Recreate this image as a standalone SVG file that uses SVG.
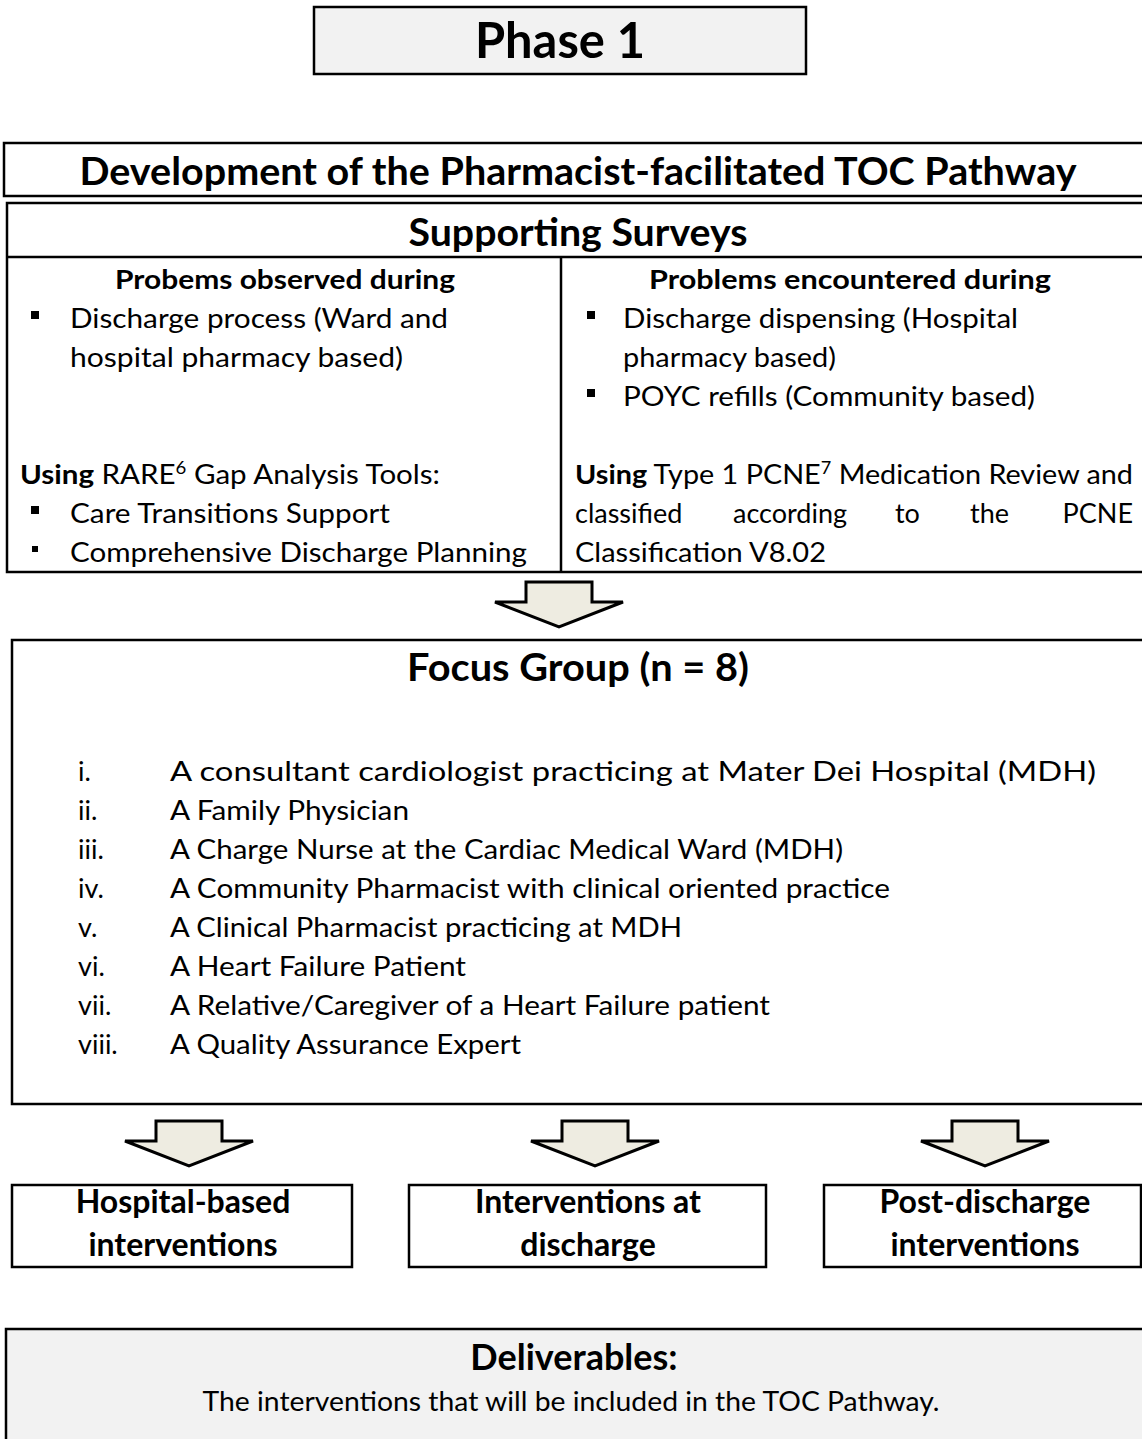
<svg xmlns="http://www.w3.org/2000/svg" width="1142" height="1439" viewBox="0 0 1142 1439">
  <style>
    .box { fill: #ffffff; stroke: #000000; stroke-width: 2.5; }
    .grey { fill: #f2f2f2; }
    .rule { stroke: #000000; stroke-width: 2.5; fill: none; }
    .t { font-family: Lato, "Open Sans", "Liberation Sans", sans-serif; fill: #000000; }
    .b { font-weight: bold; }
    .h1 { font-size: 50px; }
    .h2 { font-size: 39px; }
    .h3 { font-size: 27px; }
    .h4 { font-size: 32px; }
    .n { font-size: 27px; }
    .sup { font-size: 17px; }
    .arrow { fill: #eeece1; stroke: #000000; stroke-width: 3; stroke-linejoin: miter; }
  </style>
  <defs>
    <!-- block arrow pointing down, origin at top centre of shaft -->
    <path id="downArrow" d="M -33 0 L 33 0 L 33 20 L 64 20 L 0 45 L -64 20 L -33 20 Z"/>
  </defs>
  <rect width="1142" height="1439" fill="#ffffff"/>

  <g id="phase-title">
    <rect class="box grey" x="314" y="7" width="492" height="67"/>
    <text class="t b h1" x="560" y="58" text-anchor="middle" textLength="170" lengthAdjust="spacingAndGlyphs">Phase 1</text>
  </g>

  <g id="development-header">
    <rect class="box" x="4" y="143" width="1150" height="53"/>
    <text class="t b h2" x="578" y="185" text-anchor="middle" textLength="997" lengthAdjust="spacingAndGlyphs">Development of the Pharmacist-facilitated TOC Pathway</text>
  </g>

  <g id="supporting-surveys">
    <rect class="box" x="7" y="203" width="1150" height="369"/>
    <line class="rule" x1="7" y1="257" x2="1142" y2="257"/>
    <line class="rule" x1="561" y1="257" x2="561" y2="572"/>
    <text class="t b h2" x="578" y="246" text-anchor="middle" textLength="339" lengthAdjust="spacingAndGlyphs">Supporting Surveys</text>

    <!-- left column -->
    <g id="observed-problems">
      <text class="t b h3" x="285" y="289" text-anchor="middle" textLength="340" lengthAdjust="spacingAndGlyphs">Probems observed during</text>
      <rect x="31" y="311" width="8" height="8"/>
      <text class="t n" x="70" y="328" textLength="378" lengthAdjust="spacingAndGlyphs">Discharge process (Ward and</text>
      <text class="t n" x="70" y="367" textLength="333" lengthAdjust="spacingAndGlyphs">hospital pharmacy based)</text>
      <text class="t n" x="20" y="484" textLength="420" lengthAdjust="spacingAndGlyphs"><tspan class="b">Using</tspan> RARE<tspan class="sup" dy="-10">6</tspan><tspan dy="10"> Gap Analysis Tools:</tspan></text>
      <rect x="31" y="506" width="8" height="8"/>
      <text class="t n" x="70" y="523" textLength="320" lengthAdjust="spacingAndGlyphs">Care Transitions Support</text>
      <rect x="32" y="546" width="6" height="6"/>
      <text class="t n" x="70" y="562" textLength="457" lengthAdjust="spacingAndGlyphs">Comprehensive Discharge Planning</text>
    </g>

    <!-- right column -->
    <g id="encountered-problems">
      <text class="t b h3" x="850" y="289" text-anchor="middle" textLength="402" lengthAdjust="spacingAndGlyphs">Problems encountered during</text>
      <rect x="587" y="311" width="8" height="8"/>
      <text class="t n" x="623" y="328" textLength="395" lengthAdjust="spacingAndGlyphs">Discharge dispensing (Hospital</text>
      <text class="t n" x="623" y="367" textLength="213" lengthAdjust="spacingAndGlyphs">pharmacy based)</text>
      <rect x="587" y="389" width="8" height="8"/>
      <text class="t n" x="623" y="406" textLength="412" lengthAdjust="spacingAndGlyphs">POYC refills (Community based)</text>
      <text class="t n" x="575" y="484" textLength="558" lengthAdjust="spacingAndGlyphs"><tspan class="b">Using</tspan> Type 1 PCNE<tspan class="sup" dy="-10">7</tspan><tspan dy="10"> Medication Review and</tspan></text>
      <text class="t n" x="575" y="523">classified</text>
      <text class="t n" x="733" y="523">according</text>
      <text class="t n" x="895" y="523">to</text>
      <text class="t n" x="970" y="523">the</text>
      <text class="t n" x="1133" y="523" text-anchor="end">PCNE</text>
      <text class="t n" x="575" y="562" textLength="251" lengthAdjust="spacingAndGlyphs">Classification V8.02</text>
    </g>
  </g>

  <g id="focus-group">
    <rect class="box" x="12" y="640" width="1150" height="464"/>
    <text class="t b h2" x="578" y="681" text-anchor="middle" textLength="342" lengthAdjust="spacingAndGlyphs">Focus Group (n = 8)</text>
    <g class="t n">
      <text x="78" y="781">i.</text>
      <text x="170" y="781" textLength="926" lengthAdjust="spacingAndGlyphs">A consultant cardiologist practicing at Mater Dei Hospital (MDH)</text>
      <text x="78" y="820">ii.</text>
      <text x="170" y="820" textLength="239" lengthAdjust="spacingAndGlyphs">A Family Physician</text>
      <text x="78" y="859">iii.</text>
      <text x="170" y="859" textLength="673" lengthAdjust="spacingAndGlyphs">A Charge Nurse at the Cardiac Medical Ward (MDH)</text>
      <text x="78" y="898">iv.</text>
      <text x="170" y="898" textLength="720" lengthAdjust="spacingAndGlyphs">A Community Pharmacist with clinical oriented practice</text>
      <text x="78" y="937">v.</text>
      <text x="170" y="937" textLength="512" lengthAdjust="spacingAndGlyphs">A Clinical Pharmacist practicing at MDH</text>
      <text x="78" y="976">vi.</text>
      <text x="170" y="976" textLength="296" lengthAdjust="spacingAndGlyphs">A Heart Failure Patient</text>
      <text x="78" y="1015">vii.</text>
      <text x="170" y="1015" textLength="600" lengthAdjust="spacingAndGlyphs">A Relative/Caregiver of a Heart Failure patient</text>
      <text x="78" y="1054">viii.</text>
      <text x="170" y="1054" textLength="351" lengthAdjust="spacingAndGlyphs">A Quality Assurance Expert</text>
    </g>
  </g>

  <g id="connectors">
    <use href="#downArrow" class="arrow" x="559" y="582"/>
    <use href="#downArrow" class="arrow" x="189" y="1121"/>
    <use href="#downArrow" class="arrow" x="595" y="1121"/>
    <use href="#downArrow" class="arrow" x="985" y="1121"/>
  </g>

  <g id="hospital-based">
    <rect class="box" x="12" y="1185" width="340" height="82"/>
    <text class="t b h4" x="183" y="1213" text-anchor="middle">Hospital-based</text>
    <text class="t b h4" x="183" y="1256" text-anchor="middle">interventions</text>
  </g>

  <g id="at-discharge">
    <rect class="box" x="409" y="1185" width="357" height="82"/>
    <text class="t b h4" x="588" y="1213" text-anchor="middle">Interventions at</text>
    <text class="t b h4" x="588" y="1256" text-anchor="middle">discharge</text>
  </g>

  <g id="post-discharge">
    <rect class="box" x="824" y="1185" width="317" height="82"/>
    <text class="t b h4" x="985" y="1213" text-anchor="middle">Post-discharge</text>
    <text class="t b h4" x="985" y="1256" text-anchor="middle">interventions</text>
  </g>

  <g id="deliverables">
    <rect class="box grey" x="6" y="1329" width="1150" height="120"/>
    <text class="t b h4" x="574" y="1370" text-anchor="middle" style="font-size:36px">Deliverables:</text>
    <text class="t n" x="571" y="1411" text-anchor="middle" textLength="737" lengthAdjust="spacingAndGlyphs">The interventions that will be included in the TOC Pathway.</text>
  </g>
</svg>
